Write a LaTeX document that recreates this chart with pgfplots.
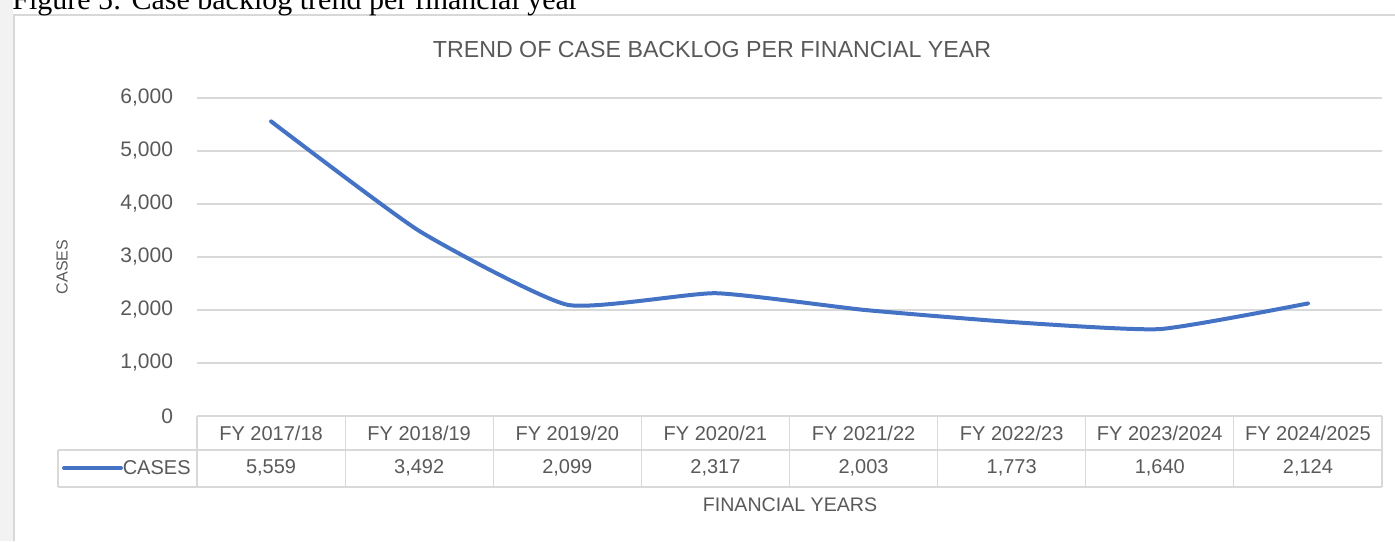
\documentclass[border=0pt]{standalone}
\usepackage{pgfplots}
\usepackage{pgfplotstable}
\pgfplotsset{compat=1.18}
\usepackage{fontspec}
\setmainfont{Liberation Sans}
\newfontfamily\capfont{Liberation Serif}
\definecolor{txt}{HTML}{595959}
\definecolor{gridc}{HTML}{D9D9D9}
\definecolor{linec}{HTML}{4472C4}
\definecolor{frame}{HTML}{D8D8D8}
\definecolor{leftbg}{HTML}{F2F2F2}

\pgfplotstableread{
x val
0 5559
1 3492
2 2099
3 2317
4 2003
5 1773
6 1640
7 2124
}\data

\begin{document}
\begin{tikzpicture}
\path[use as bounding box] (0,0) rectangle (697.5pt,-270.5pt);
% page background bits
\fill[leftbg] (0,0) rectangle (6.5pt,-270.5pt);
\draw[frame, line width=0.6pt] (7pt,-270.5pt) -- (7pt,-7.5pt) -- (697.5pt,-7.5pt);
% caption (cut off at top, as in the reference)
\node[anchor=base west, inner sep=0pt, font=\capfont\fontsize{15}{18}\selectfont] at (6pt,-4.5pt) {Figure 5: Case backlog trend per financial year};
% title
\node[font=\fontsize{11.6}{14}\selectfont, text=txt] at (356pt,-25pt) {TREND OF CASE BACKLOG PER FINANCIAL YEAR};
% y label
\node[rotate=90, font=\fontsize{8}{10}\selectfont, text=txt] at (31pt,-133.5pt) {CASES};
% x label
\node[font=\fontsize{9.8}{12}\selectfont, text=txt] at (395pt,-252.5pt) {FINANCIAL YEARS};

\begin{axis}[
  at={(98.5pt,-208pt)}, anchor=south west,
  scale only axis, width=592.5pt, height=159pt,
  xmin=-0.5, xmax=7.5, ymin=0, ymax=6000,
  ytick={0,1000,2000,3000,4000,5000,6000},
  xtick={0,...,7},
  xticklabels={FY 2017/18, FY 2018/19, FY 2019/20, FY 2020/21, FY 2021/22, FY 2022/23, FY 2023/2024, FY 2024/2025},
  axis line style={draw=none},
  major tick length=0pt,
  ymajorgrids, grid style={draw=gridc, line width=0.6pt},
  clip=false,
  /pgf/number format/.cd, 1000 sep={,}, assume math mode=true, /pgfplots/.cd,
  yticklabel style={font=\fontsize{10.5}{12}\selectfont, text=txt, anchor=east, xshift=-8.5pt},
  xticklabel style={font=\fontsize{10}{12}\selectfont, text=txt, anchor=center, yshift=-8.5pt},
]
\addplot[linec, line width=2pt, line cap=round, line join=round, smooth, tension=0.3] table[x=x, y=val] {\data};
\addplot[draw=none, nodes near coords, point meta=explicit,
  every node near coord/.append style={anchor=center, yshift=-26pt, font=\fontsize{10}{12}\selectfont, text=txt}]
  table[x=x, y expr=0, meta=val] {\data};
\end{axis}

% data table grid
\begin{scope}[gridc, line width=0.6pt]
\draw (98.5pt,-208pt) -- (691pt,-208pt);
\draw (29pt,-225pt) -- (691pt,-225pt);
\draw (29pt,-243.5pt) -- (691pt,-243.5pt);
\draw (29pt,-225pt) -- (29pt,-243.5pt);
\foreach \k in {0,...,8} {
  \draw ({98.5pt+\k*74.0625pt},-208pt) -- ({98.5pt+\k*74.0625pt},-243.5pt);
}
\end{scope}
% legend key in table
\draw[linec, line width=2pt, line cap=round] (32pt,-234pt) -- (60.5pt,-234pt);
\node[anchor=east, font=\fontsize{10}{12}\selectfont, text=txt, inner sep=0pt] at (95.5pt,-234pt) {CASES};
\end{tikzpicture}
\end{document}
